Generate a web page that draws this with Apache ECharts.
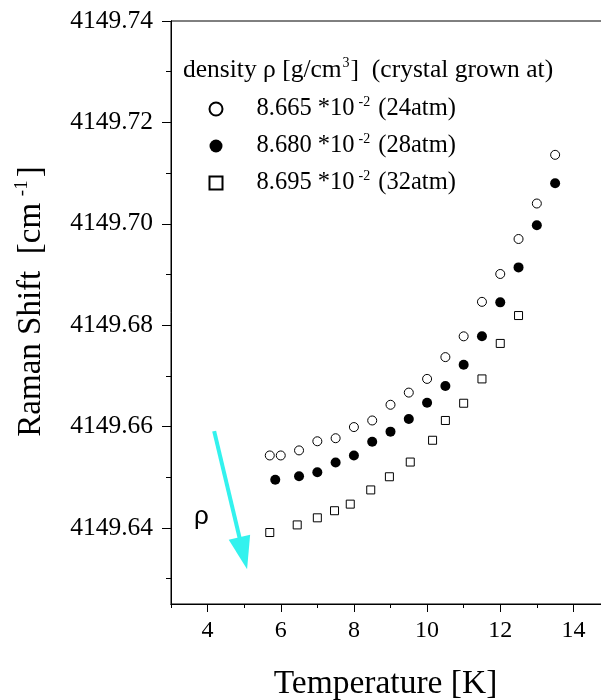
<!DOCTYPE html>
<html>
<head>
<meta charset="utf-8">
<title>Raman Shift vs Temperature</title>
<script src="https://cdn.jsdelivr.net/npm/echarts@6/dist/echarts.min.js"></script>
<style>
  html, body { margin: 0; padding: 0; background: #fff; }
  #chart { width: 601px; height: 700px; }
</style>
</head>
<body>
<div id="chart"></div>
<script>
// Raman shift of the crystal line vs temperature, three densities
const tempLow = [5.7, 6.0, 6.5, 7.0, 7.5, 8.0, 8.5, 9.0, 9.5, 10.0, 10.5, 11.0, 11.5, 12.0, 12.5, 13.0, 13.5];
const shiftLow = [4149.6543, 4149.6543, 4149.6553, 4149.6571, 4149.6577, 4149.6599, 4149.6612, 4149.6643,
                  4149.6667, 4149.6694, 4149.6737, 4149.6778, 4149.6846, 4149.6901, 4149.6970, 4149.7040, 4149.7136];

const tempMid = [5.85, 6.5, 7.0, 7.5, 8.0, 8.5, 9.0, 9.5, 10.0, 10.5, 11.0, 11.5, 12.0, 12.5, 13.0, 13.5];
const shiftMid = [4149.6495, 4149.6502, 4149.6510, 4149.6529, 4149.6543, 4149.6570, 4149.6590, 4149.6615,
                  4149.6647, 4149.6680, 4149.6722, 4149.6778, 4149.6845, 4149.6914, 4149.6997, 4149.7080];

const tempHigh = [5.7, 6.45, 7.0, 7.47, 7.9, 8.46, 8.97, 9.54, 10.15, 10.5, 11.0, 11.5, 12.0, 12.5];
const shiftHigh = [4149.6391, 4149.6406, 4149.6420, 4149.6434, 4149.6447, 4149.6475, 4149.6501, 4149.6530,
                   4149.6573, 4149.6612, 4149.6646, 4149.6694, 4149.6764, 4149.6819];

const seriesNames = ['8.665e-2 (24atm)', '8.680e-2 (28atm)', '8.695e-2 (32atm)'];
const legendMantissa = ['8.665', '8.680', '8.695'];
const legendPressure = ['24atm', '28atm', '32atm'];

const xMajorTicks = [4, 6, 8, 10, 12, 14];
const xMinorTicks = [3, 5, 7, 9, 11, 13, 15];
const yMajorTicks = [4149.64, 4149.66, 4149.68, 4149.70, 4149.72, 4149.74];
const yMinorTicks = [4149.63, 4149.65, 4149.67, 4149.69, 4149.71, 4149.73];

// density arrow annotation: tail and arrowhead centre in data units
const arrowFrom = [4.18, 4149.6591];
const arrowTo = [4.975, 4149.6350];
const rhoLabelAt = [3.83, 4149.6422];

const SERIF = '"Liberation Serif", "Times New Roman", serif';
const SANS = '"Liberation Sans", Arial, sans-serif';

const pairs = (xs, ys) => xs.map((x, i) => [x, ys[i]]);

const chart = echarts.init(document.getElementById('chart'), null, { renderer: 'canvas' });

const xBase = {
  type: 'value', min: 3, max: 15, gridIndex: 0, position: 'bottom',
  splitLine: { show: false },
  axisLine: { show: true, onZero: false, lineStyle: { color: '#000', width: 1 } }
};
const yBase = {
  type: 'value', min: 4149.625, max: 4149.74, gridIndex: 0, position: 'left',
  splitLine: { show: false },
  axisLine: { show: true, onZero: false, lineStyle: { color: '#000', width: 1 } }
};

const richText = {
  g: { width: 29, fontSize: 24, lineHeight: 28 },
  a: { fontFamily: SERIF, fontSize: 24.5, fontWeight: 'normal', color: '#000', lineHeight: 28 },
  s: { fontFamily: SERIF, fontSize: 14, fontWeight: 'normal', color: '#000', verticalAlign: 'top', lineHeight: 14, padding: [0, 2, 0, 4] }
};

const option = {
  backgroundColor: '#fff',
  animation: false,
  title: {
    text: '{a|density ρ [g/cm}{s|3}{a|]  (crystal grown at)}',
    left: 178, top: 51,
    textStyle: {
      fontWeight: 'normal',
      rich: {
        a: { fontFamily: SERIF, fontSize: 25.5, fontWeight: 'normal', color: '#000', lineHeight: 28 },
        s: { fontFamily: SERIF, fontSize: 14, fontWeight: 'normal', color: '#000', verticalAlign: 'top', lineHeight: 14, padding: [0, 1, 0, 1] }
      }
    }
  },
  legend: {
    orient: 'vertical',
    left: 203.5, top: 90,
    itemWidth: 13, itemHeight: 13,
    itemGap: 10.5,
    selectedMode: false,
    data: seriesNames,
    formatter: (name) => {
      const i = seriesNames.indexOf(name);
      return '{g|}{a|' + legendMantissa[i] + ' *10}{s|-2}{a| (' + legendPressure[i] + ')}';
    },
    textStyle: { rich: richText }
  },
  grid: {
    left: 171, top: 21, width: 439, height: 583,
    outerBoundsMode: 'none', containLabel: false,
    show: true, borderColor: '#000', borderWidth: 1, backgroundColor: 'transparent'
  },
  xAxis: [
    Object.assign({}, xBase, {
      name: 'Temperature [K]',
      nameLocation: 'middle',
      nameGap: 63,
      nameTextStyle: { fontFamily: SERIF, fontSize: 33.5, color: '#000', padding: [0, 10, 0, 0] },
      axisTick: { show: true, inside: false, length: 8, customValues: xMajorTicks, lineStyle: { color: '#000' } },
      axisLabel: { show: true, margin: 15, customValues: xMajorTicks, fontFamily: SERIF, fontSize: 24, color: '#000' }
    }),
    Object.assign({}, xBase, {
      axisTick: { show: true, inside: false, length: 4, customValues: xMinorTicks, lineStyle: { color: '#000' } },
      axisLabel: { show: false }
    })
  ],
  yAxis: [
    Object.assign({}, yBase, {
      name: '{a|Raman Shift  [cm}{s| -1}{a|]}',
      nameLocation: 'middle',
      nameGap: 122,
      nameRotate: 90,
      nameTextStyle: {
        padding: [0, 0, 0, 22],
        rich: {
          a: { fontFamily: SERIF, fontSize: 33, color: '#000', lineHeight: 36 },
          s: { fontFamily: SERIF, fontSize: 19, color: '#000', verticalAlign: 'top', lineHeight: 19, padding: [0, 3, 0, 2] }
        }
      },
      axisTick: { show: true, inside: false, length: 9, customValues: yMajorTicks, lineStyle: { color: '#000' } },
      axisLabel: {
        show: true, margin: 18, customValues: yMajorTicks,
        fontFamily: SERIF, fontSize: 25.5, color: '#000',
        formatter: (v) => v.toFixed(2)
      }
    }),
    Object.assign({}, yBase, {
      axisTick: { show: true, inside: false, length: 5, customValues: yMinorTicks, lineStyle: { color: '#000' } },
      axisLabel: { show: false }
    })
  ],
  series: [
    {
      name: seriesNames[0], type: 'scatter', xAxisIndex: 0, yAxisIndex: 0,
      data: pairs(tempLow, shiftLow),
      symbol: 'circle', symbolSize: 9,
      itemStyle: { color: '#fff', borderColor: '#000', borderWidth: 1, opacity: 1 },
      z: 3
    },
    {
      name: seriesNames[1], type: 'scatter', xAxisIndex: 0, yAxisIndex: 0,
      data: pairs(tempMid, shiftMid),
      symbol: 'circle', symbolSize: 10,
      itemStyle: { color: '#000', borderColor: '#000', borderWidth: 0, opacity: 1 },
      z: 3
    },
    {
      name: seriesNames[2], type: 'scatter', xAxisIndex: 0, yAxisIndex: 0,
      data: pairs(tempHigh, shiftHigh),
      symbol: 'rect', symbolSize: 8,
      itemStyle: { color: '#fff', borderColor: '#000', borderWidth: 1, opacity: 1 },
      z: 3,
      markLine: {
        silent: true,
        animation: false,
        symbol: ['none', 'triangle'],
        symbolSize: [22, 33],
        label: { show: false },
        lineStyle: { color: '#33f2ee', width: 4, type: 'solid', opacity: 1 },
        data: [[{ coord: arrowFrom }, { coord: arrowTo }]]
      },
      markPoint: {
        silent: true,
        symbol: 'circle',
        symbolSize: 1,
        itemStyle: { color: 'rgba(0,0,0,0)', borderWidth: 0 },
        label: { show: true, position: 'inside', formatter: 'ρ', fontFamily: SANS, fontSize: 26, color: '#000' },
        data: [{ coord: rhoLabelAt }]
      }
    }
  ]
};

chart.setOption(option);
</script>
</body>
</html>
